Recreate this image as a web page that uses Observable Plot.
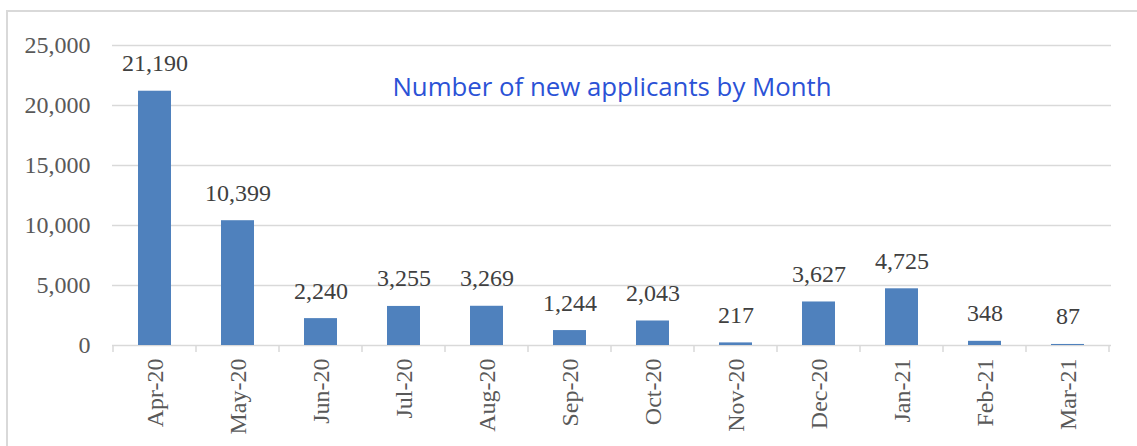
<!DOCTYPE html>
<html>
<head>
<meta charset="utf-8">
<script src="https://cdn.jsdelivr.net/npm/d3@7"></script>
<script src="https://cdn.jsdelivr.net/npm/@observablehq/plot@0.6"></script>
<style>
  html, body { margin: 0; padding: 0; background: #fff; }
  #wrap { position: relative; width: 1137px; height: 446px; overflow: hidden; }
  #frame { position: absolute; left: 6px; top: 10px; width: 1200px; height: 500px; border: 2px solid #d9d9d9; box-sizing: border-box; pointer-events: none; }
</style>
</head>
<body>
<div id="wrap"><div id="frame"></div></div>
<script>
const months = ["Apr-20","May-20","Jun-20","Jul-20","Aug-20","Sep-20","Oct-20","Nov-20","Dec-20","Jan-21","Feb-21","Mar-21"];
const applicants = [21190, 10399, 2240, 3255, 3269, 1244, 2043, 217, 3627, 4725, 348, 87];
const yTicks = [0, 5000, 10000, 15000, 20000, 25000];
const title = "Number of new applicants by Month";

const data = months.map((m, i) => ({month: m, value: applicants[i]}));

function boundaryTicks(index, scales, values, dimensions) {
  const x = scales.x;
  const bw = x.bandwidth();
  const step = typeof x.step === "function" ? x.step() : bw;
  const y0 = dimensions.height - dimensions.marginBottom;
  const edges = months.map(m => x(m) - (step - bw) / 2);
  edges.push(x(months[months.length - 1]) + bw + (step - bw) / 2);
  const g = d3.create("svg:g").attr("stroke", "#d9d9d9").attr("stroke-width", 1.5);
  for (const e of edges) {
    g.append("line").attr("x1", e).attr("x2", e).attr("y1", y0).attr("y2", y0 + 7);
  }
  return g.node();
}

const chart = Plot.plot({
  width: 1137,
  height: 446,
  marginLeft: 112,
  marginRight: 26,
  marginTop: 45,
  marginBottom: 101,
  style: {fontFamily: "'Liberation Serif', 'Times New Roman', serif", fontSize: "24px", color: "#595959", background: "transparent"},
  x: {domain: months, paddingInner: 0.6, paddingOuter: 0.3, label: null},
  y: {domain: [0, 25000], label: null},
  marks: [
    Plot.ruleY(yTicks, {stroke: "#d9d9d9", strokeWidth: 1.5}),
    Plot.barY(data, {x: "month", y: "value", fill: "#4f81bd"}),
    Plot.text(data, {x: "month", y: "value", text: d => d3.format(",")(d.value), lineAnchor: "bottom", dy: -20, fill: "#404040", fontSize: 24}),
    Plot.axisY({ticks: yTicks, tickSize: 0, tickPadding: 22, tickFormat: d3.format(","), fontSize: 24}),
    Plot.axisX({tickSize: 0, tickPadding: 13, tickRotate: -90, fontSize: 24}),
    boundaryTicks,
    Plot.text([title], {frameAnchor: "top", lineAnchor: "bottom", dy: 50, fill: "#2b52d6", fontSize: 25.8, fontFamily: "'Open Sans', 'Noto Sans', sans-serif"})
  ]
});
document.getElementById("wrap").prepend(chart);
</script>
</body>
</html>
